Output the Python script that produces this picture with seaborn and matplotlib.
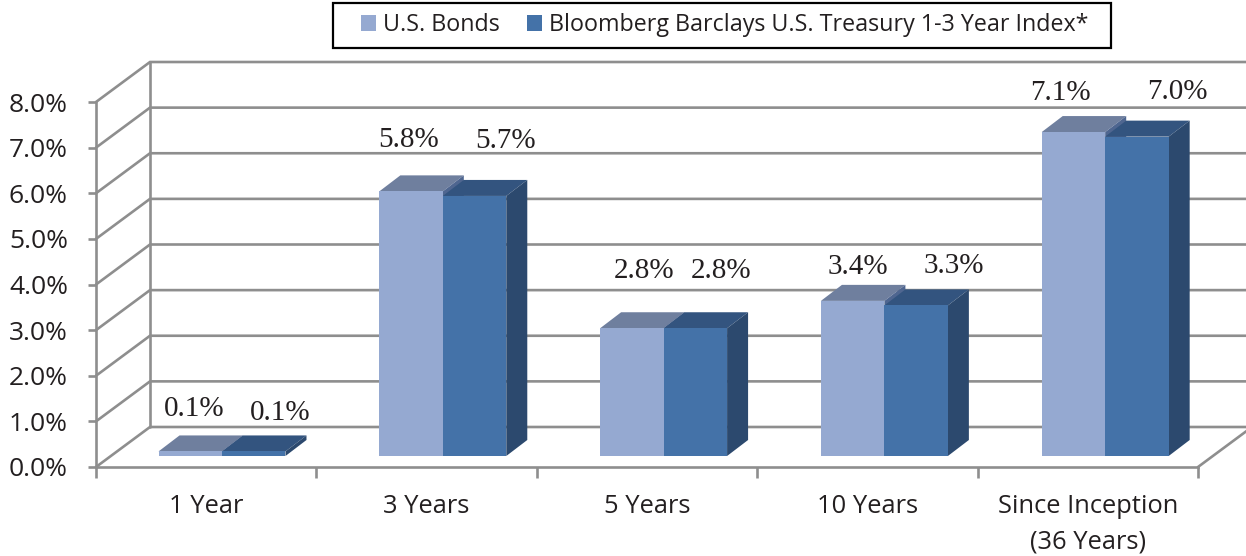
import pandas as pd
import matplotlib
matplotlib.use('Agg')
import matplotlib.pyplot as plt
import seaborn as sns
from matplotlib.patches import Polygon, Rectangle

periods = ['1 Year', '3 Years', '5 Years', '10 Years', 'Since Inception\n(36 Years)']
us_bonds = [0.1, 5.8, 2.8, 3.4, 7.1]
treasury_index = [0.1, 5.7, 2.8, 3.3, 7.0]
series_names = ['U.S. Bonds', 'Bloomberg Barclays U.S. Treasury 1-3 Year Index*']
y_ticks = [0, 1, 2, 3, 4, 5, 6, 7, 8]

W, H = 1246, 556
GRID = '#8E8E8E'
INK = '#231F20'
LW = 1.9
front = ['#95A9D1', '#4472A8']
top = ['#6F7F9E', '#33547F']
side = ['#4F6690', '#2C496E']

# label offsets in pixels from the top of each bar (placed by hand in the original)
nudge_bonds = [(4, 42), (-2, 51), (12, 57), (5, 34), (-13, 39)]
nudge_index = [(26, 38), (31, 55), (26, 57), (38, 39), (40, 45)]

df = pd.DataFrame({
    'period': periods * 2,
    'value': us_bonds + treasury_index,
    'series': [series_names[0]] * 5 + [series_names[1]] * 5,
})


def px_axes(fig, left, right, ytop, ybottom):
    return fig.add_axes([left / W, 1 - ybottom / H, (right - left) / W, (ybottom - ytop) / H])


sns.set_theme(style='white')
plt.rcParams['font.family'] = ['Open Sans', 'DejaVu Sans']

fig = plt.figure(figsize=(W / 100, H / 100), dpi=100)

# front plane of the 3d box: holds the ticks and the tick labels
ax = px_axes(fig, 96, 1198, 102, 467)
ax.set_xlim(-0.5, 4.5)
ax.set_ylim(0, 8)
ax.set_xticks(range(5))
ax.set_xticklabels(periods, fontsize=18.4, color=INK, linespacing=1.56)
ax.set_xticks([-0.5, 0.5, 1.5, 2.5, 3.5, 4.5], minor=True)
ax.set_yticks(y_ticks)
ax.set_yticklabels([f'{v:.1f}%' for v in y_ticks], fontsize=19, color=INK)
ax.tick_params(axis='x', which='major', length=0, pad=19.5)
ax.tick_params(axis='x', which='minor', length=8, width=LW, color=GRID, bottom=True)
ax.tick_params(axis='y', length=5.8, width=LW, color=GRID, left=True, pad=14.4)
sns.despine(ax=ax)
for s in ['left', 'bottom']:
    ax.spines[s].set_color(GRID)
    ax.spines[s].set_linewidth(LW)

# walls going back from the front plane
wall_dx = 54 / (1102 / 5)
wall_dy = 40 / (365 / 8)
for v in y_ticks:
    ax.plot([-0.5, -0.5 + wall_dx, 4.5 + wall_dx + 0.1], [v, v + wall_dy, v + wall_dy],
            color=GRID, lw=LW, clip_on=False, solid_joinstyle='miter')
ax.plot([-0.5 + wall_dx] * 2, [wall_dy, 8 + wall_dy], color=GRID, lw=LW, clip_on=False)
ax.plot([4.5, 4.5 + wall_dx], [0, wall_dy], color=GRID, lw=LW, clip_on=False)

# bars sit a little behind the front plane, so they get their own axes
ax_bar = px_axes(fig, 111.6, 1215.6, 91, 456)
ax_bar.patch.set_alpha(0)
sns.barplot(data=df, x='period', y='value', hue='series', order=periods, hue_order=series_names,
            palette=front, saturation=1, width=0.575, gap=0, linewidth=0, ax=ax_bar, zorder=3)
ax_bar.set_xlim(-0.5, 4.5)
ax_bar.set_ylim(0, 8)

dx = 21 / (1104 / 5)
dy = 16 / (365 / 8)
nudges = [nudge_bonds, nudge_index]
for s, cont in enumerate(ax_bar.containers):
    for i, bar in enumerate(cont):
        x0, x1 = bar.get_x(), bar.get_x() + bar.get_width()
        h = bar.get_height()
        ax_bar.add_patch(Polygon([(x0, h), (x1, h), (x1 + dx, h + dy), (x0 + dx, h + dy)],
                                 fc=top[s], ec='none', zorder=2 + s * 0.5, clip_on=False))
        ax_bar.add_patch(Polygon([(x1, 0), (x1 + dx, dy), (x1 + dx, h + dy), (x1, h)],
                                 fc=side[s], ec='none', zorder=2 + s * 0.5, clip_on=False))
        ax_bar.annotate(f'{h:.1f}%', ((x0 + x1) / 2, h), xytext=nudges[s][i], textcoords='offset pixels',
                        ha='center', va='center', fontsize=21, color=INK,
                        family='Liberation Serif', annotation_clip=False)

handles, labels = ax_bar.get_legend_handles_labels()
ax_bar.get_legend().remove()
ax_bar.axis('off')

# legend box drawn apart, its padding is wider than it is tall
fig.add_artist(Rectangle((332.5 / W, 1 - 47.5 / H), 778 / W, 45 / H, transform=fig.transFigure,
                         fc='white', ec='black', lw=1.6, zorder=5))
leg = fig.legend(handles, labels, ncol=2, loc='center left', bbox_to_anchor=(361 / W, 1 - 25 / H),
                 borderaxespad=0, borderpad=0, fontsize=16.75, frameon=False,
                 handlelength=0.65, handleheight=0.65, handletextpad=0.3,
                 columnspacing=1.16, labelcolor=INK)
leg.set_zorder(6)

fig.savefig('out.png', dpi=100)
